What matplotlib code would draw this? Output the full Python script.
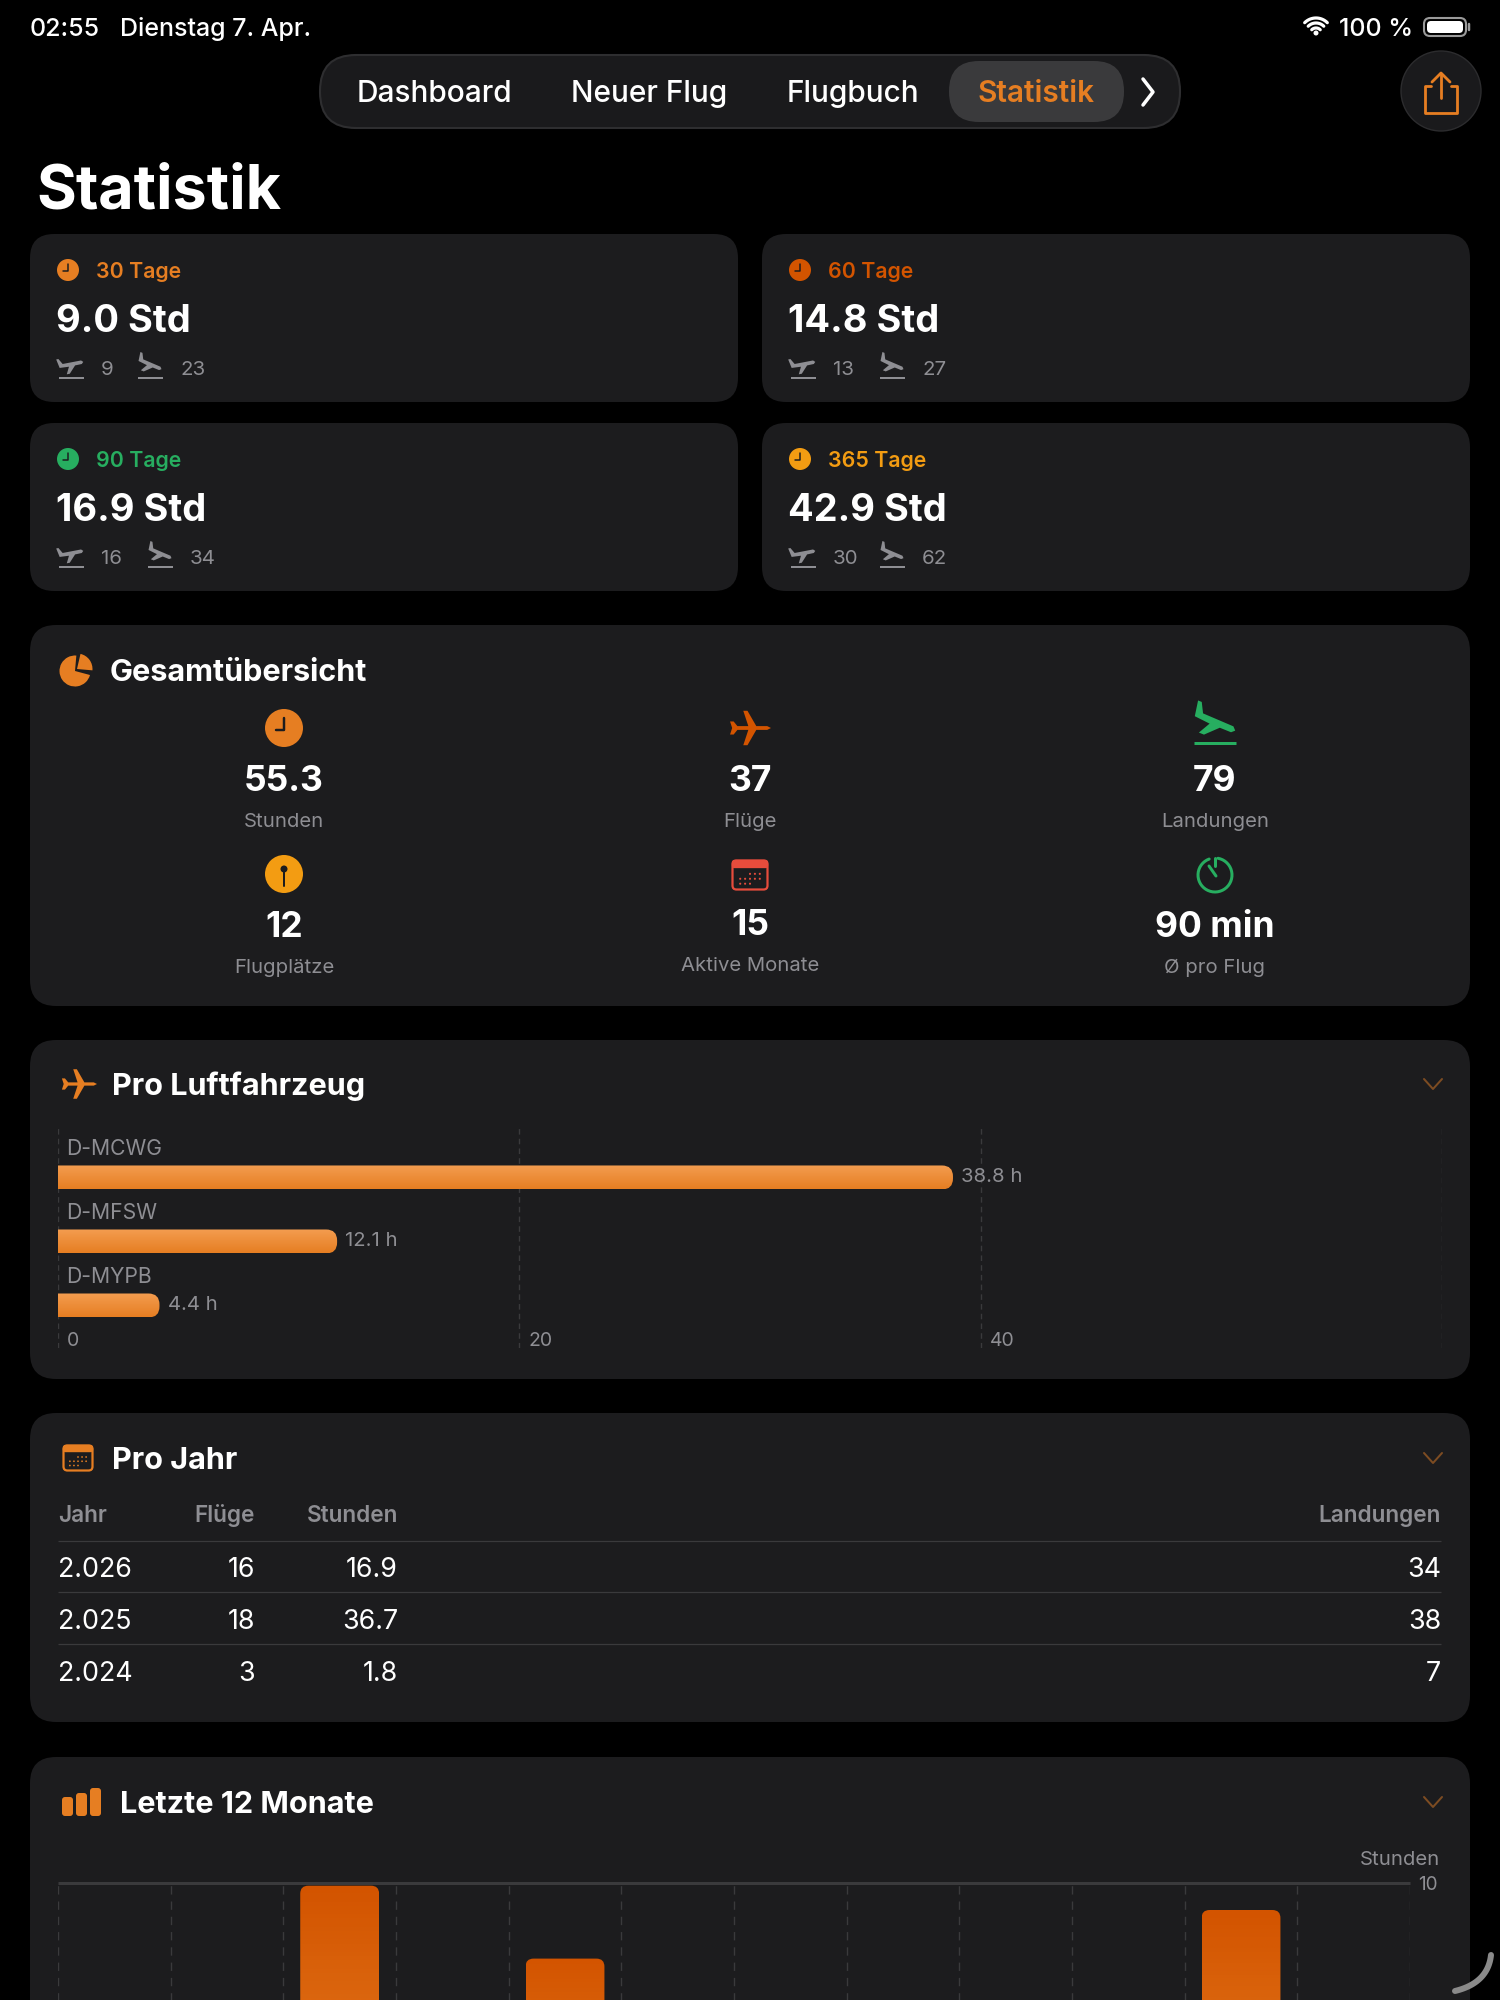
import numpy as np
import matplotlib
matplotlib.use('Agg')
import matplotlib.pyplot as plt
from matplotlib.colors import LinearSegmentedColormap
from matplotlib.patches import Circle, FancyBboxPatch, PathPatch, Polygon, Wedge
from matplotlib.path import Path
from matplotlib.transforms import Affine2D

plt.rcParams['font.family'] = ['Inter', 'DejaVu Sans']

W, H = 1500, 2000

BG = '#000000'
CARD = '#1C1C1E'
GRID = '#3A3A3C'
WHITE = '#FFFFFF'
GRAY = '#8E8E93'
ORANGE = '#E67E22'
DARK_ORANGE = '#D35400'
GREEN = '#27AE60'
AMBER = '#F39C12'
RED = '#E74C3C'
CHEVRON = '#7D4C22'

NAV_ITEMS = ['Dashboard', 'Neuer Flug', 'Flugbuch', 'Statistik']
NAV_X = [434, 649, 853, 1036]

PERIOD_LABELS = ['30 Tage', '60 Tage', '90 Tage', '365 Tage']
PERIOD_COLORS = [ORANGE, DARK_ORANGE, GREEN, AMBER]
PERIOD_HOURS = ['9.0 Std', '14.8 Std', '16.9 Std', '42.9 Std']
PERIOD_TAKEOFFS = [9, 13, 16, 30]
PERIOD_LANDINGS = [23, 27, 34, 62]

OVERVIEW_VALUES = ['55.3', '37', '79', '12', '15', '90 min']
OVERVIEW_LABELS = ['Stunden', 'Flüge', 'Landungen', 'Flugplätze', 'Aktive Monate', 'Ø pro Flug']

AIRCRAFT = ['D-MCWG', 'D-MFSW', 'D-MYPB']
AIRCRAFT_HOURS = [38.8, 12.1, 4.4]
AIRCRAFT_TICKS = [0, 20, 40, 60]

YEARS = ['2.026', '2.025', '2.024']
YEAR_FLIGHTS = [16, 18, 3]
YEAR_HOURS = [16.9, 36.7, 1.8]
YEAR_LANDINGS = [34, 38, 7]

# only the three tallest bars are visible, the picture is cut off below
MONTHS = ['Mai', 'Jun', 'Jul', 'Aug', 'Sep', 'Okt', 'Nov', 'Dez', 'Jan', 'Feb', 'Mär', 'Apr']
MONTH_HOURS = [0, 0, 9.9, 0, 7.2, 0, 0, 0, 0, 0, 9.0, 0]

PLANE = np.array([(1, 0), (0.82, -0.11), (0.3, -0.11), (-0.12, -1), (-0.32, -1), (-0.08, -0.11),
                  (-0.6, -0.11), (-0.78, -0.38), (-0.95, -0.38), (-0.85, 0), (-0.95, 0.38),
                  (-0.78, 0.38), (-0.6, 0.11), (-0.08, 0.11), (-0.32, 1), (-0.12, 1),
                  (0.3, 0.11), (0.82, 0.11)])
# side view for takeoff and landing icons
SIDE_PLANE = np.array([(1, 0.02), (0.85, -0.13), (-0.65, -0.16), (-0.9, -0.62), (-1.08, -0.62),
                       (-0.95, 0.1), (-0.2, 0.16), (-0.5, 0.72), (-0.25, 0.72), (0.3, 0.16), (0.85, 0.16)])

fig = plt.figure(figsize=(15, 20), dpi=100, facecolor=BG)
ax = fig.add_axes([0, 0, 1, 1])
ax.set_xlim(0, W)
ax.set_ylim(H, 0)
ax.axis('off')


def txt(x, y, s, size, color=WHITE, weight='normal', ha='left', target=None):
    (target or ax).text(x, y + 0.36 * size, s, fontsize=size * 0.72, color=color,
                        fontweight=weight, ha=ha, va='baseline', zorder=6)


def card(x0, y0, x1, y1, r=24, color=CARD, ec='none', lw=0, z=1):
    ax.add_patch(FancyBboxPatch((x0 + r, y0 + r), x1 - x0 - 2 * r, y1 - y0 - 2 * r,
                                boxstyle=f'round,pad={r},rounding_size={r}',
                                fc=color, ec=ec, lw=lw, zorder=z))


def line(xs, ys, color, lw=2, cap='round', z=5):
    ax.plot(xs, ys, color=color, lw=lw * 0.72, solid_capstyle=cap, zorder=z)


def arc(cx, cy, r, a0, a1, color, lw=2):
    t = np.radians(np.linspace(a0, a1, 40))
    line(cx + r * np.cos(t), cy + r * np.sin(t), color, lw)


def plane(cx, cy, size, color, angle=0, sy=1.0, shape=PLANE):
    pts = Affine2D().scale(size, size * sy).rotate_deg(angle).translate(cx, cy).transform(shape)
    ax.add_patch(Polygon(pts, closed=True, fc=color, ec='none', zorder=5))


def clock(cx, cy, r, color):
    ax.add_patch(Circle((cx, cy), r, fc=color, ec='none', zorder=5))
    line([cx - r * 0.42, cx, cx], [cy + r * 0.08, cy + r * 0.08, cy - r * 0.55], CARD, max(1.5, r * 0.13))


def flight_icon(cx, cy, size, color, angle):
    plane(cx, cy - size * 0.3, size, color, angle, shape=SIDE_PLANE)
    line([cx - size, cx + size], [cy + size * 0.8, cy + size * 0.8], color, size * 0.16, 'butt')


def calendar(cx, cy, w, h, color):
    card(cx - w / 2, cy - h / 2, cx + w / 2, cy + h / 2, 4, CARD, color, 1.6, 5)
    card(cx - w / 2, cy - h / 2, cx + w / 2, cy - h / 2 + h * 0.24, 2, color, color, 1, 5)
    for row in range(3):
        for col in range(5):
            if (row == 0 and col < 2) or (row == 2 and col > 2):
                continue
            ax.add_patch(Circle((cx - w * 0.28 + col * w * 0.14, cy - h * 0.04 + row * h * 0.17),
                                w * 0.03, fc=color, ec='none', zorder=6))


def gradient_bar(target, bar, top_color, bottom_color, r_px, rounded):
    """Swap a matplotlib bar for a gradient one with rounded corners."""
    x0, y0 = bar.get_x(), bar.get_y()
    x1, y1 = x0 + bar.get_width(), y0 + bar.get_height()
    bar.set_visible(False)
    box = target.get_position()
    xlim, ylim = target.get_xlim(), target.get_ylim()
    rx = r_px * abs(xlim[1] - xlim[0]) / (box.width * W)
    ry = r_px * abs(ylim[1] - ylim[0]) / (box.height * H)
    verts, codes = [], []
    corners = [(x0, y0), (x1, y0), (x1, y1), (x0, y1)]
    # each corner goes from the previous edge into the next one
    dirs = [(1, 0), (0, 1), (-1, 0), (0, -1)]
    for i, (cx, cy) in enumerate(corners):
        if rounded[i]:
            dx_in, dy_in = dirs[i - 1]
            dx_out, dy_out = dirs[i]
            verts += [(cx - dx_in * rx, cy - dy_in * ry), (cx, cy), (cx + dx_out * rx, cy + dy_out * ry)]
            codes += [Path.LINETO, Path.CURVE3, Path.CURVE3]
        else:
            verts.append((cx, cy))
            codes.append(Path.LINETO)
    codes[0] = Path.MOVETO
    verts.append(verts[0])
    codes.append(Path.CLOSEPOLY)
    clip = PathPatch(Path(verts, codes), fc='none', ec='none', transform=target.transData)
    target.add_patch(clip)
    cmap = LinearSegmentedColormap.from_list('bar', [top_color, bottom_color])
    im = target.imshow(np.linspace(0, 1, 64)[:, None], cmap=cmap, aspect='auto', origin='upper',
                       extent=[x0, x1, max(y0, y1) if ylim[0] > ylim[1] else min(y0, y1),
                               min(y0, y1) if ylim[0] > ylim[1] else max(y0, y1)], zorder=3)
    im.set_clip_path(clip)
    target.set_xlim(xlim)
    target.set_ylim(ylim)


def chevron_down(y):
    line([1424, 1433, 1442], [y - 5, y + 5, y - 5], CHEVRON, 2)


# status bar
txt(30, 27, '02:55', 25, weight='medium')
txt(120, 27, 'Dienstag 7. Apr.', 25, weight='medium')
txt(1339, 27, '100 %', 25, weight='medium')
for r in (6, 11, 16):
    arc(1316, 34, r, 225, 315, WHITE, 3.2)
ax.add_patch(Circle((1316, 33), 2.5, fc=WHITE, ec='none', zorder=5))
card(1424, 18, 1466, 36, 6, 'none', '#9A9A9A', 1.5, 5)
card(1427, 21, 1463, 33, 4, WHITE, z=5)
line([1469, 1469], [24, 30], '#9A9A9A', 2.5)

# navigation
card(320, 55, 1180, 128, 36, '#1A1A1C', '#2E2E30', 1.5)
card(949, 61, 1124, 122, 30, '#3A3A3C', z=2)
for x, item in zip(NAV_X, NAV_ITEMS):
    txt(x, 91, item, 29.8, ORANGE if item == 'Statistik' else WHITE,
        'semibold' if item == 'Statistik' else 'medium', 'center')
line([1143, 1153, 1143], [79, 92, 105], WHITE, 3.5)

ax.add_patch(Circle((1441, 91), 40, fc='#1A1A1C', ec='#2C2C2E', lw=1, zorder=2))
line([1431, 1425, 1425, 1457, 1457, 1451], [86, 86, 113, 113, 86, 86], ORANGE, 2.8)
line([1441, 1441], [74, 98], ORANGE, 2.8)
line([1432, 1441, 1450], [82, 73, 82], ORANGE, 2.8)

txt(36, 187, 'Statistik', 61, weight='bold')

# period cards
for i, label in enumerate(PERIOD_LABELS):
    x0 = 30 if i % 2 == 0 else 762
    y0 = 234 if i < 2 else 423
    card(x0, y0, x0 + 708, y0 + 168)
    color = PERIOD_COLORS[i]
    clock(x0 + 38, y0 + 36, 11, color)
    txt(x0 + 66, y0 + 36, label, 21.3, color, 'semibold')
    txt(x0 + 26, y0 + 84, PERIOD_HOURS[i], 38, weight='bold')
    takeoff = str(PERIOD_TAKEOFFS[i])
    flight_icon(x0 + 41, y0 + 134, 12.5, GRAY, -12)
    txt(x0 + 71, y0 + 134, takeoff, 20.5, GRAY)
    land_x = x0 + (130 if len(takeoff) == 2 else 120)
    flight_icon(land_x, y0 + 134, 12.5, GRAY, 22)
    txt(land_x + 30, y0 + 134, str(PERIOD_LANDINGS[i]), 20.5, GRAY)

# overview card
card(30, 625, 1470, 1006, 26)
ax.add_patch(Wedge((75, 671), 15.5, 15, 275, fc=ORANGE, ec='none', zorder=5))
ax.add_patch(Wedge((77, 669), 15.5, 283, 365, fc=ORANGE, ec='none', zorder=5))
txt(110, 670, 'Gesamtübersicht', 30.6, weight='bold')

col_x = [284, 750, 1215]
row_value = [778, 924]
row_label = [820, 966]
for i, (value, label) in enumerate(zip(OVERVIEW_VALUES, OVERVIEW_LABELS)):
    cx, row = col_x[i % 3], i // 3
    nudge = -2 if i == 4 else 0
    txt(cx, row_value[row] + nudge, value, 35.5, weight='bold', ha='center')
    txt(cx, row_label[row] + nudge, label, 20.3, GRAY, ha='center')

clock(284, 728, 19, ORANGE)
plane(750, 728, 21, DARK_ORANGE, sy=0.82)
plane(1215, 722, 22, GREEN, 22, shape=SIDE_PLANE)
line([1194, 1236], [743, 743], GREEN, 3, 'butt')
ax.add_patch(Circle((284, 874), 19, fc=AMBER, ec='none', zorder=5))
ax.add_patch(Circle((284, 869), 3.5, fc=CARD, ec='none', zorder=6))
line([284, 284], [870, 886], CARD, 2)
calendar(750, 875, 35, 29, RED)
arc(1215, 875, 17, -80, 250, GREEN, 3)
line([1215, 1215], [858, 866], GREEN, 3)
line([1209, 1216], [866, 876], GREEN, 3)

# aircraft card
card(30, 1040, 1470, 1379, 26)
plane(79, 1084, 18, ORANGE, sy=0.82)
txt(112, 1084, 'Pro Luftfahrzeug', 30.6, weight='bold')
chevron_down(1084)

ac = fig.add_axes([58 / W, 1 - 1348 / H, (1442 - 58) / W, (1348 - 1128) / H])
ac.patch.set_alpha(0)
ac.axis('off')
ac.set_xlim(0, 60)
ac.set_ylim(2.664, -0.773)
ac.vlines(AIRCRAFT_TICKS, 2.664, -0.773, color=GRID, lw=1, linestyles=(0, (4, 3)), zorder=1)
bars = ac.barh(range(len(AIRCRAFT)), AIRCRAFT_HOURS, height=0.375)
for i, bar in enumerate(bars):
    gradient_bar(ac, bar, '#F49E52', ORANGE, 11, [False, True, True, False])
    ac.annotate(AIRCRAFT[i], (0, i), xytext=(6, 20.3), textcoords='offset points',
                fontsize=15.2, color=GRAY, va='center')
    ac.annotate(f'{AIRCRAFT_HOURS[i]} h', (AIRCRAFT_HOURS[i], i), xytext=(6, 0), textcoords='offset points',
                fontsize=14.6, color=GRAY, va='center', zorder=6)
for tick in AIRCRAFT_TICKS[:-1]:
    ac.annotate(str(tick), (tick, 2.55), xytext=(6.5, 0), textcoords='offset points',
                fontsize=14, color=GRAY, va='center')

# per year table
card(30, 1413, 1470, 1722, 26)
calendar(78, 1458, 29, 25, ORANGE)
txt(112, 1458, 'Pro Jahr', 30.6, weight='bold')
chevron_down(1458)
HEADER_Y = 1514
txt(58, HEADER_Y, 'Jahr', 22.6, GRAY, 'semibold')
txt(255, HEADER_Y, 'Flüge', 22.6, GRAY, 'semibold', 'right')
txt(398, HEADER_Y, 'Stunden', 22.6, GRAY, 'semibold', 'right')
txt(1441, HEADER_Y, 'Landungen', 22.6, GRAY, 'semibold', 'right')
for y in (1541, 1592, 1644):
    line([58, 1441], [y, y], GRID, 1.2, 'butt')
for i, year in enumerate(YEARS):
    y = 1567.5 + i * 51.7
    txt(58, y, year, 26.8)
    txt(255, y, str(YEAR_FLIGHTS[i]), 26.8, ha='right')
    txt(398, y, f'{YEAR_HOURS[i]}', 26.8, ha='right')
    txt(1441, y, str(YEAR_LANDINGS[i]), 26.8, ha='right')

# last 12 months card, runs off the bottom
card(30, 1757, 1470, 2060, 26)
for x0, top in zip((62, 76, 90), (1797, 1793, 1788)):
    card(x0, top, x0 + 11, 1816, 3, ORANGE, z=5)
txt(120, 1802, 'Letzte 12 Monate', 30.6, weight='bold')
chevron_down(1802)
txt(1440, 1858, 'Stunden', 20.3, GRAY, ha='right')
txt(1418, 1883, '10', 19, GRAY)

mc = fig.add_axes([58 / W, 1 - 2153 / H, (1410 - 58) / W, (2153 - 1883) / H])
mc.patch.set_alpha(0)
mc.axis('off')
mc.set_xlim(-0.5, 11.5)
mc.set_ylim(0, 10)
mc.hlines(10, -0.5, 11.5, color=GRID, lw=2.2, zorder=1, clip_on=False)
mc.vlines(np.arange(13) - 0.5, 0, 10, color=GRID, lw=1, linestyles=(0, (6, 5)), zorder=1)
bars = mc.bar(range(len(MONTHS)), MONTH_HOURS, width=0.7)
for bar, hours in zip(bars, MONTH_HOURS):
    if hours > 0:
        gradient_bar(mc, bar, DARK_ORANGE, ORANGE, 8, [False, False, True, True])

# scroll indicator in the corner
t = np.linspace(0, 1, 40)
sx = (1 - t) ** 2 * 1491 + 2 * (1 - t) * t * 1488 + t ** 2 * 1455
sy = (1 - t) ** 2 * 1955 + 2 * (1 - t) * t * 1983 + t ** 2 * 1991
line(sx, sy, '#8A8A8A', 6, z=7)

fig.savefig('out.png', dpi=100, facecolor=BG)
